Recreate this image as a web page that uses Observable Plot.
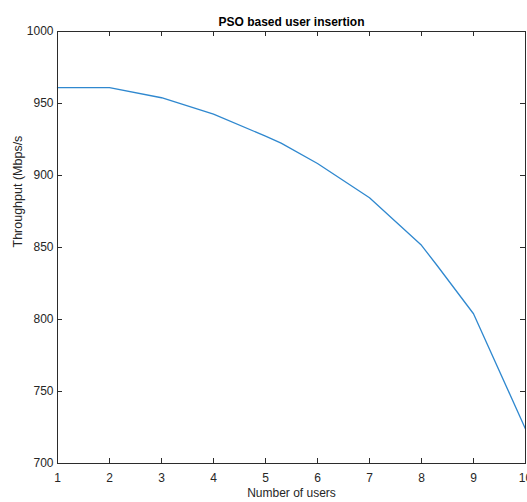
<!DOCTYPE html>
<html><head><meta charset="utf-8">
<script src="https://cdn.jsdelivr.net/npm/d3@7"></script>
<script src="https://cdn.jsdelivr.net/npm/@observablehq/plot@0.6"></script>
<style>body{margin:0;background:#fff} svg{display:block}</style>
</head><body><div id="chart"></div>
<script>
const users = [1, 2, 3, 4, 5, 5.3, 6, 7, 8, 8.3, 9, 10];
const throughput = [961, 961, 954, 942.6, 927.3, 922.5, 908.3, 884.5, 851.5, 837.5, 804, 724];
const xTicks = [1, 2, 3, 4, 5, 6, 7, 8, 9, 10];
const yTicks = [700, 750, 800, 850, 900, 950, 1000];
const title = "PSO based user insertion";
const xLabel = "Number of users";
const yLabel = "Throughput (Mbps/s";

const data = users.map((u, i) => ({u, t: throughput[i]}));
const W = 527, H = 502, mL = 57, mR = 2, mT = 31, mB = 39;
const pw = W - mL - mR, ph = H - mT - mB;
const tk = 5;
const axisColor = "#2b2b2b";
const chart = Plot.plot({
  width: W, height: H,
  marginLeft: mL, marginRight: mR, marginTop: mT, marginBottom: mB,
  style: {fontFamily: "'Liberation Sans', Arial, sans-serif", fontSize: "12px", color: "#262626", background: "#fff"},
  x: {domain: [1, 10], label: null},
  y: {domain: [700, 1000], label: null},
  marks: [
    Plot.line(data, {x: "u", y: "t", stroke: "#2f88cf", strokeWidth: 1.3}),
    Plot.frame({stroke: axisColor}),
    Plot.tickX(xTicks, {x: d => d, insetTop: ph - tk, stroke: axisColor}),
    Plot.tickX(xTicks, {x: d => d, insetBottom: ph - tk, stroke: axisColor}),
    Plot.tickY(yTicks, {y: d => d, insetRight: pw - tk, stroke: axisColor}),
    Plot.tickY(yTicks, {y: d => d, insetLeft: pw - tk, stroke: axisColor}),
    Plot.axisX({ticks: xTicks, tickFormat: d3.format("d"), tickSize: 0, tickPadding: 10, label: null}),
    Plot.axisY({ticks: yTicks, tickFormat: d3.format("d"), tickSize: 0, tickPadding: 4, label: null}),
    Plot.text([title], {text: d => d, frameAnchor: "top", dy: -14, fontWeight: "bold", fontSize: 12, fill: "#000"}),
    Plot.text([xLabel], {text: d => d, frameAnchor: "bottom", dy: 33, fontSize: 12, fill: "#262626"}),
    Plot.text([yLabel], {text: d => d, frameAnchor: "left", dx: -40, rotate: -90, fontSize: 12.5, fill: "#262626"})
  ]
});
document.getElementById("chart").appendChild(chart);
</script>
</body></html>
